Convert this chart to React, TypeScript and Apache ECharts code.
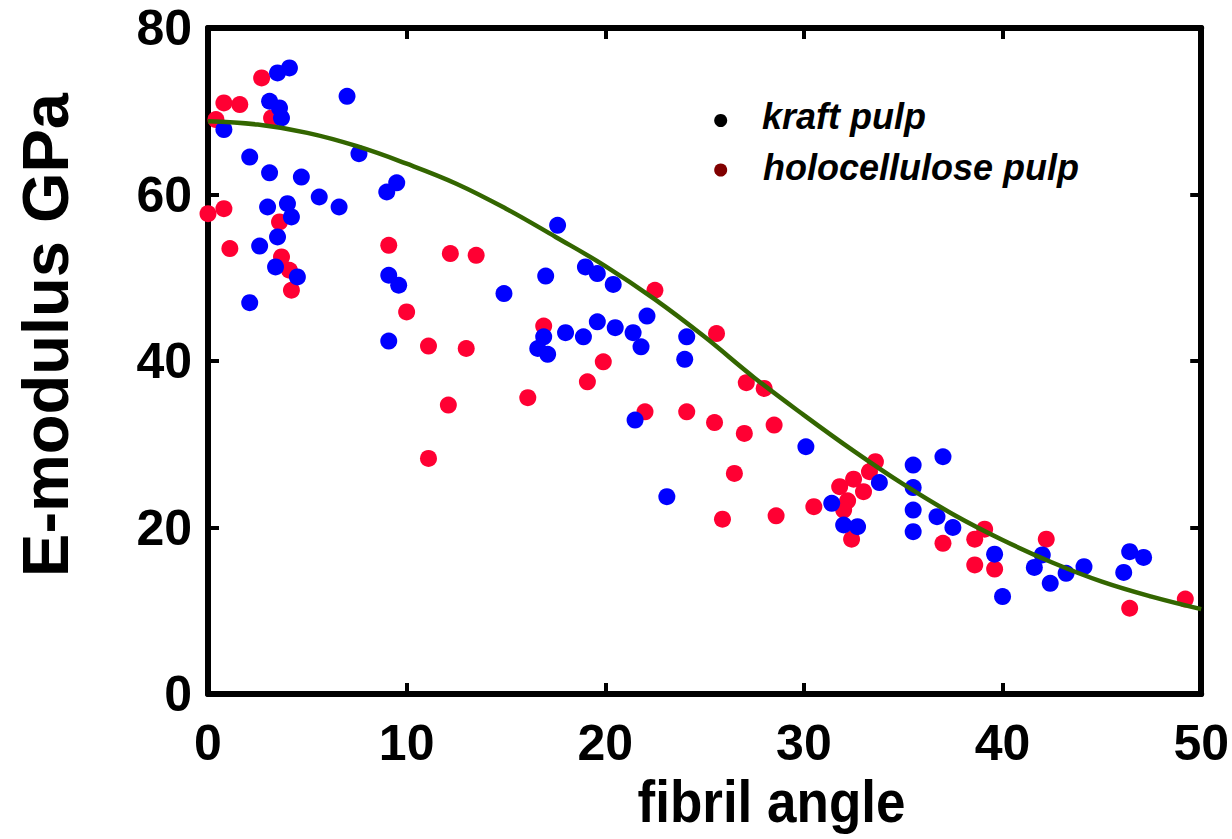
import React, { useEffect, useRef } from "react";
import * as echarts from "echarts";

// fibril angle (deg), E-modulus (GPa)
const kraftPulp: [number, number][] = [
  [3.5, 74.6], [4.1, 75.2], [7.0, 71.8], [3.1, 71.2], [3.6, 70.4], [3.7, 69.2],
  [0.8, 67.8], [2.1, 64.5], [7.6, 64.9], [3.1, 62.6], [4.7, 62.1], [9.5, 61.4],
  [9.0, 60.3], [5.6, 59.7], [6.6, 58.5], [3.0, 58.5], [4.0, 58.9], [4.2, 57.3],
  [3.5, 54.9], [2.6, 53.8], [3.4, 51.3], [4.5, 50.1], [9.1, 50.3], [9.6, 49.1],
  [2.1, 47.0], [9.1, 42.4], [17.6, 56.3], [17.0, 50.2], [14.9, 48.1], [19.0, 51.3],
  [19.6, 50.5], [20.4, 49.2], [22.1, 45.4], [16.9, 42.9], [16.6, 41.5], [17.1, 40.8],
  [18.0, 43.4], [18.9, 42.9], [19.6, 44.7], [20.5, 44.0], [21.4, 43.4], [21.8, 41.7],
  [24.1, 42.9], [24.0, 40.2], [21.5, 32.9], [23.1, 23.7], [30.1, 29.7], [31.4, 22.9],
  [32.0, 20.3], [32.7, 20.1], [33.8, 25.4], [35.5, 27.5], [37.0, 28.5], [35.5, 24.8],
  [35.5, 22.1], [36.7, 21.3], [35.5, 19.5], [37.5, 20.0], [39.6, 16.8], [40.0, 11.7],
  [42.0, 16.7], [41.6, 15.2], [42.4, 13.3], [43.2, 14.5], [44.1, 15.3], [46.4, 17.1],
  [47.1, 16.4], [46.1, 14.6],
];

const holocellulosePulp: [number, number][] = [
  [2.7, 74.0], [0.8, 71.0], [1.6, 70.8], [0.4, 69.0], [3.2, 69.2], [0.0, 57.7],
  [0.8, 58.3], [1.1, 53.5], [3.6, 56.7], [3.7, 52.5], [4.1, 50.9], [4.2, 48.5],
  [9.1, 53.9], [12.2, 52.9], [13.5, 52.7], [10.0, 45.9], [11.1, 41.8], [13.0, 41.5],
  [12.1, 34.7], [11.1, 28.3], [16.9, 44.2], [16.1, 35.6], [19.1, 37.5], [19.9, 39.9],
  [22.5, 48.5], [22.0, 33.9], [24.1, 33.9], [25.5, 32.6], [25.6, 43.3], [27.0, 31.3],
  [26.5, 26.5], [27.1, 37.4], [28.0, 36.7], [28.5, 32.3], [25.9, 21.0], [28.6, 21.4],
  [30.5, 22.5], [33.6, 27.9], [33.3, 26.7], [32.5, 25.8], [31.8, 24.9], [33.0, 24.3],
  [32.2, 23.2], [32.0, 22.1], [32.4, 18.6], [37.0, 18.1], [39.1, 19.8], [38.6, 18.6],
  [38.6, 15.5], [39.6, 15.0], [42.2, 18.6], [46.4, 10.3], [49.2, 11.4],
];

const fitAngle = [0, 2.5, 5, 7.5, 10, 12.5, 15, 17.5, 20, 22.5, 25, 27.5, 30, 32.5, 35, 37.5, 40, 42.5, 45, 47.5, 50];
const fitModulus = [68.8, 68.4, 67.4, 65.8, 63.7, 61.3, 58.3, 54.9, 51.4, 47.4, 42.9, 38.0, 33.5, 29.2, 25.2, 21.6, 18.5, 15.8, 13.5, 11.7, 10.2];

const xTickValues = [0, 10, 20, 30, 40, 50];
const yTickValues = [0, 20, 40, 60, 80];

const seriesNames = ["kraft pulp", "holocellulose pulp"];
const xTitle = "fibril angle";
const yTitle = "E-modulus GPa";

const FONT = "'Liberation Sans', Arial, Helvetica, sans-serif";

export default function App() {
  const ref = useRef<HTMLDivElement>(null);

  useEffect(() => {
    document.body.style.margin = "0";
    if (!ref.current) return;
    const chart = echarts.init(ref.current, undefined, { renderer: "svg" });

    const xMin = xTickValues[0];
    const xMax = xTickValues[xTickValues.length - 1];
    const xInt = xTickValues[1] - xTickValues[0];
    const yMin = yTickValues[0];
    const yMax = yTickValues[yTickValues.length - 1];
    const yInt = yTickValues[1] - yTickValues[0];

    const axisLine = { show: true, onZero: false, lineStyle: { color: "#000", width: 6 } };
    const axisTick = { show: true, inside: true, length: 11, lineStyle: { color: "#000", width: 4 } };
    const labelStyle = { color: "#000", fontSize: 50, fontWeight: "bold" as const, fontFamily: FONT };

    const fitData = fitAngle.map((a, i) => [a, fitModulus[i]]);

    chart.setOption({
      animation: false,
      backgroundColor: "#fff",
      grid: { left: 208, right: 26, top: 28, bottom: 145, containLabel: false },
      xAxis: [
        {
          type: "value", min: xMin, max: xMax, interval: xInt, position: "bottom",
          axisLine, axisTick, splitLine: { show: false },
          axisLabel: { ...labelStyle, margin: 24 },
        },
        {
          type: "value", min: xMin, max: xMax, interval: xInt, position: "top",
          axisLine, axisTick, splitLine: { show: false }, axisLabel: { show: false },
        },
      ],
      yAxis: [
        {
          type: "value", min: yMin, max: yMax, interval: yInt, position: "left",
          axisLine, axisTick, splitLine: { show: false },
          axisLabel: { ...labelStyle, margin: 16 },
        },
        {
          type: "value", min: yMin, max: yMax, interval: yInt, position: "right",
          axisLine, axisTick, splitLine: { show: false }, axisLabel: { show: false },
        },
      ],
      series: [
        {
          name: seriesNames[1], type: "scatter", data: holocellulosePulp,
          symbol: "circle", symbolSize: 17, itemStyle: { color: "#ff0033", opacity: 1 }, z: 2,
        },
        {
          name: seriesNames[0], type: "scatter", data: kraftPulp,
          symbol: "circle", symbolSize: 17, itemStyle: { color: "#0000ff", opacity: 1 }, z: 3,
        },
        {
          name: "fit", type: "line", data: fitData, smooth: 0.4, symbol: "none",
          lineStyle: { color: "#336600", width: 4.5 }, z: 4,
        },
      ],
      graphic: [
        {
          type: "circle", shape: { cx: 720.7, cy: 120.5, r: 6.5 }, style: { fill: "#000" },
        },
        {
          type: "circle", shape: { cx: 720.7, cy: 170, r: 6.5 }, style: { fill: "#800000" },
        },
        {
          type: "text", x: 762, y: 116,
          style: {
            text: seriesNames[0], fill: "#000",
            font: `italic bold 36px ${FONT}`,
            align: "left", verticalAlign: "middle", textAlign: "left", textVerticalAlign: "middle",
          },
        },
        {
          type: "text", x: 763, y: 167.5,
          style: {
            text: seriesNames[1], fill: "#000",
            font: `italic bold 36px ${FONT}`,
            align: "left", verticalAlign: "middle", textAlign: "left", textVerticalAlign: "middle",
          },
        },
        {
          type: "text", x: 771.5, y: 802, scaleY: 1.1,
          style: {
            text: xTitle, fill: "#000",
            font: `bold 53px ${FONT}`,
            align: "center", verticalAlign: "middle", textAlign: "center", textVerticalAlign: "middle",
          },
        },
        {
          type: "text", x: 45.5, y: 335, rotation: Math.PI / 2,
          style: {
            text: yTitle, fill: "#000",
            font: `bold 65px ${FONT}`,
            align: "center", verticalAlign: "middle", textAlign: "center", textVerticalAlign: "middle",
          },
        },
      ],
    });

    return () => chart.dispose();
  }, []);

  return <div ref={ref} style={{ width: 1232, height: 839 }} />;
}
